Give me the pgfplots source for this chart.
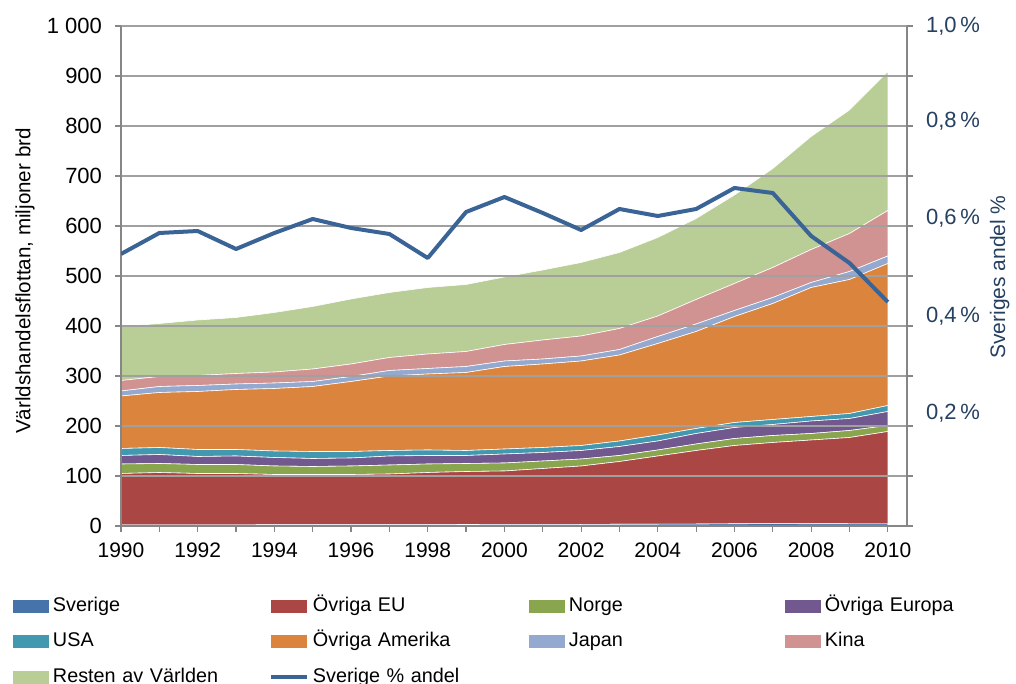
\documentclass[border=0pt]{standalone}
\usepackage{pgfplots}
\pgfplotsset{compat=1.18}
\usepackage{pgfplotstable}
\usepackage{fontspec}
\setmainfont{Liberation Sans}

\definecolor{sverige}{HTML}{4674AA}
\definecolor{eu}{HTML}{AA4643}
\definecolor{norge}{HTML}{89A54E}
\definecolor{europa}{HTML}{71588F}
\definecolor{usa}{HTML}{4198AF}
\definecolor{amerika}{HTML}{DB843D}
\definecolor{japan}{HTML}{93A9CF}
\definecolor{kina}{HTML}{D19392}
\definecolor{resten}{HTML}{B9CD96}
\definecolor{linecol}{HTML}{3A6496}
\definecolor{textblue}{HTML}{254061}
\definecolor{axisgray}{HTML}{868686}
\definecolor{gridgray}{HTML}{A0A0A0}

% miljoner brd per region, andel = Sveriges andel i %
\pgfplotstableread{
year sverige eu norge europa usa amerika japan kina resten andel
1990 2.2 102.8 19 17 14 105 10 21 108 0.544
1991 2.4 104.6 18 18 14 110 12 20 106 0.586
1992 2.4 102.6 18 16 14 116 12 20 111 0.590
1993 2.3 102.7 18 17 13 120 11 21 112 0.554
1994 2.5 100.5 17 17 13 125 11 22 119 0.586
1995 2.7 100.3 16 16 14 130 10 25 125 0.614
1996 2.7 100.3 17 16 13 140 10 25 130 0.596
1997 2.7 101.3 18 18 11 149 11 26 130 0.584
1998 2.6 104.4 17 17 11 152 11 29 133 0.536
1999 3.0 106.0 16 16 10 156 12 30 134 0.628
2000 3.3 106.7 16 18 10 165 11 33 135 0.658
2001 3.2 111.8 15 17 10 167 10 38 140 0.626
2002 3.1 116.9 14 17 10 169 10 40 147 0.592
2003 3.5 125.5 12 18 11 172 11 42 152 0.634
2004 3.6 136.4 12 18 12 183 14 41 157 0.620
2005 3.9 147.1 13 21 10 194 15 49 162 0.634
2006 4.5 156.5 14 22 10 212 12 54 177 0.676
2007 4.8 162.2 14 22 10 232 12 60 198 0.666
2008 4.5 167.5 13 25 9 258 10 66 226 0.580
2009 4.4 172.6 14 24 10 268 16 76 247 0.526
2010 4.1 184.9 12 28 12 284 15 91 278 0.448
}\data

\begin{document}
\begin{tikzpicture}
\useasboundingbox (-60.5bp,-79bp) rectangle (447.5bp,263bp);
\begin{axis}[
    scale only axis,
    width=393bp, height=250bp,
    xmin=1990, xmax=2010.5,
    ymin=0, ymax=1000,
    axis x line*=bottom, axis y line*=left,
    axis line style={draw=axisgray, line width=0.6bp},
    xtick={1990,1992,...,2010},
    minor xtick={1991,1993,...,2009},
    ytick={0,100,...,1000},
    tick align=outside,
    major tick length=3bp, minor tick length=3bp,
    every tick/.style={draw=axisgray, line width=0.6bp},
    ymajorgrids,
    grid style={draw=gridgray, line width=0.6bp},
    /pgf/number format/assume math mode=true,
    xticklabel style={/pgf/number format/1000 sep={}, yshift=-2bp,
        font=\fontsize{10.5bp}{12bp}\selectfont},
    yticklabel style={/pgf/number format/1000 sep={\ }, xshift=-3bp,
        font=\fontsize{11bp}{13bp}\selectfont},
    ylabel={Världshandelsflottan, miljoner brd},
    ylabel style={at={(axis description cs:-0.122,0.49)}, anchor=center,
        font=\fontsize{10.3bp}{12bp}\selectfont},
    stack plots=y,
    area style,
    every axis plot/.append style={draw=white, line width=0.3bp},
    legend image code/.code={\fill[#1, draw=none] (0bp,-3.25bp) rectangle (18bp,3.25bp);},
    legend columns=4,
    legend cell align=left,
    legend style={at={(-0.1374,-0.142)}, anchor=north west,
        draw=none, fill=none, inner sep=0pt, outer sep=0pt,
        font=\fontsize{9.9bp}{11bp}\selectfont,
        row sep=8.75bp, column sep=0pt,
        nodes={inner sep=0pt, text width=108bp, text height=7bp, text depth=2bp},
        /tikz/every odd column/.append style={column sep=2bp}},
]
    \addplot[fill=sverige] table[x=year, y=sverige] {\data} \closedcycle;
    \addlegendentry{Sverige}
    \addplot[fill=eu] table[x=year, y=eu] {\data} \closedcycle;
    \addlegendentry{Övriga EU}
    \addplot[fill=norge] table[x=year, y=norge] {\data} \closedcycle;
    \addlegendentry{Norge}
    \addplot[fill=europa] table[x=year, y=europa] {\data} \closedcycle;
    \addlegendentry{Övriga Europa}
    \addplot[fill=usa] table[x=year, y=usa] {\data} \closedcycle;
    \addlegendentry{USA}
    \addplot[fill=amerika] table[x=year, y=amerika] {\data} \closedcycle;
    \addlegendentry{Övriga Amerika}
    \addplot[fill=japan] table[x=year, y=japan] {\data} \closedcycle;
    \addlegendentry{Japan}
    \addplot[fill=kina] table[x=year, y=kina] {\data} \closedcycle;
    \addlegendentry{Kina}
    \addplot[fill=resten] table[x=year, y=resten] {\data} \closedcycle;
    \addlegendentry{Resten av Världen}
    \addlegendimage{legend image code/.code={\draw[linecol, line width=2bp] (0bp,0bp) -- (18bp,0bp);}}
    \addlegendentry{Sverige \% andel}
\end{axis}

% right axis: tick marks every 0,1; labels sit a little above their marks, as in the original
\begin{axis}[
    scale only axis,
    width=393bp, height=250bp,
    xmin=1990, xmax=2010.5,
    ymin=0, ymax=1,
    axis x line=none, axis y line*=right,
    axis line style={draw=axisgray, line width=0.6bp},
    ytick={0.226,0.42,0.616,0.81,1.0},
    yticklabels={{0,2\,\%},{0,4\,\%},{0,6\,\%},{0,8\,\%},{1,0\,\%}},
    minor ytick={0,0.1,...,1.0},
    tick align=outside,
    major tick length=0bp, minor tick length=3bp,
    every tick/.style={draw=axisgray, line width=0.6bp},
    yticklabel style={font=\fontsize{11bp}{13bp}\selectfont, color=textblue, xshift=6bp},
    ylabel={Sveriges andel \%},
    ylabel style={at={(axis description cs:1.118,0.498)}, anchor=center,
        font=\fontsize{10.5bp}{12bp}\selectfont, color=textblue},
]
    \addplot[linecol, line width=2bp, line join=round] table[x=year, y=andel] {\data};
\end{axis}
\end{tikzpicture}
\end{document}
